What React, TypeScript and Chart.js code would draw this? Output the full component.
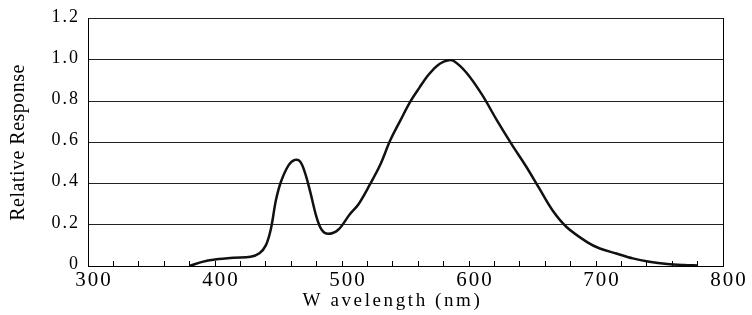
import React, { useEffect, useRef } from "react";
import { Chart, registerables } from "chart.js";

Chart.register(...registerables);

const wavelengths = [
  380, 390, 400, 415, 428, 435, 440, 444, 448, 452, 458, 463, 467, 471, 475,
  480, 484, 489, 497, 506, 513, 522, 530, 538, 546, 554, 561, 567, 572, 577,
  583, 588, 598, 610, 622, 634, 645, 655, 666, 677, 693, 703, 716, 729, 742,
  756, 769, 780,
];
const response = [
  0.0, 0.02, 0.031, 0.04, 0.045, 0.062, 0.1, 0.18, 0.32, 0.41, 0.49, 0.515,
  0.507, 0.45, 0.36, 0.236, 0.176, 0.156, 0.176, 0.25, 0.3, 0.396, 0.49, 0.61,
  0.707, 0.8, 0.866, 0.92, 0.955, 0.982, 0.998, 0.995, 0.938, 0.834, 0.707,
  0.587, 0.483, 0.38, 0.268, 0.188, 0.116, 0.085, 0.061, 0.037, 0.021, 0.01,
  0.005, 0.003,
];
const xLabels = [300, 400, 500, 600, 700, 800];
const yLabels = ["0", "0.2", "0.4", "0.6", "0.8", "1.0", "1.2"];
const xTitle = "W avelength (nm)";
const yTitle = "Relative Response";

const FONT = "'Liberation Serif', 'Times New Roman', serif";

function wrap(scale: any, name: string, spacing: string, dx = 0) {
  if (!scale || scale["__w_" + name]) return;
  const orig = scale[name].bind(scale);
  scale[name] = (...args: any[]) => {
    const ctx = scale.ctx as any;
    ctx.save();
    ctx.letterSpacing = spacing;
    if (dx) ctx.translate(dx, 0);
    try {
      orig(...args);
    } finally {
      ctx.restore();
    }
  };
  scale["__w_" + name] = true;
}

const spacingPlugin = {
  id: "spacing",
  beforeDraw(chart: any) {
    wrap(chart.scales.x, "drawLabels", "2px");
    wrap(chart.scales.x, "drawTitle", "2.6px", -13);
    wrap(chart.scales.y, "drawLabels", "2px");
    wrap(chart.scales.y, "drawTitle", "0.5px");
  },
};

export default function App() {
  const ref = useRef<HTMLCanvasElement>(null);
  useEffect(() => {
    if (!ref.current) return;
    const chart = new Chart(ref.current, {
      type: "line",
      data: {
        datasets: [
          {
            data: wavelengths.map((w, i) => ({ x: w, y: response[i] })),
            borderColor: "#111",
            borderWidth: 2.5,
            pointRadius: 0,
            fill: false,
            tension: 0.35,
          },
        ],
      },
      options: {
        responsive: false,
        maintainAspectRatio: false,
        animation: false,
        layout: { padding: { top: 15, right: 29, left: 0, bottom: 0 } },
        plugins: { legend: { display: false }, tooltip: { enabled: false } },
        scales: {
          x: {
            type: "linear",
            min: 300,
            max: 800,
            afterFit: (s: any) => {
              s.height = 49;
            },
            afterBuildTicks: (s: any) => {
              const t = [];
              for (let v = 300; v <= 800; v += 20) t.push({ value: v });
              s.ticks = t;
            },
            ticks: {
              autoSkip: false,
              maxRotation: 0,
              padding: 7,
              labelOffset: 6,
              color: "#000",
              font: { family: FONT, size: 21 },
              callback: (v: any) =>
                xLabels.includes(Number(v)) ? String(v) : "",
            },
            grid: {
              display: true,
              drawOnChartArea: false,
              drawTicks: true,
              tickLength: -5,
              color: "#000",
              lineWidth: 1,
            },
            border: { display: true, color: "#000", width: 1 },
            title: {
              display: true,
              text: xTitle,
              color: "#000",
              font: { family: FONT, size: 19 },
              padding: { top: 0, bottom: 3 },
            },
          },
          y: {
            min: 0,
            max: 1.2,
            afterFit: (s: any) => {
              s.width = 88;
            },
            afterBuildTicks: (s: any) => {
              s.ticks = yLabels.map((_, i) => ({ value: i * 0.2 }));
            },
            ticks: {
              padding: 8,
              labelOffset: -2,
              color: "#000",
              font: { family: FONT, size: 18 },
              callback: (_v: any, i: number) => yLabels[i],
            },
            grid: {
              drawTicks: false,
              color: "#222",
              lineWidth: 1,
            },
            border: { display: true, color: "#000", width: 1 },
            title: {
              display: true,
              text: yTitle,
              color: "#000",
              font: { family: FONT, size: 20 },
              padding: { top: 7, bottom: 0 },
            },
          },
          yr: {
            position: "right",
            min: 0,
            max: 1.2,
            afterFit: (s: any) => {
              s.width = 0;
            },
            ticks: { display: false },
            grid: { display: false, drawTicks: false },
            border: { display: true, color: "#000", width: 1 },
          },
        },
      } as any,
      plugins: [spacingPlugin],
    });
    return () => chart.destroy();
  }, []);
  return (
    <div style={{ position: "fixed", left: 0, top: 0 }}>
      <canvas ref={ref} width={752} height={315} style={{ display: "block" }} />
    </div>
  );
}
